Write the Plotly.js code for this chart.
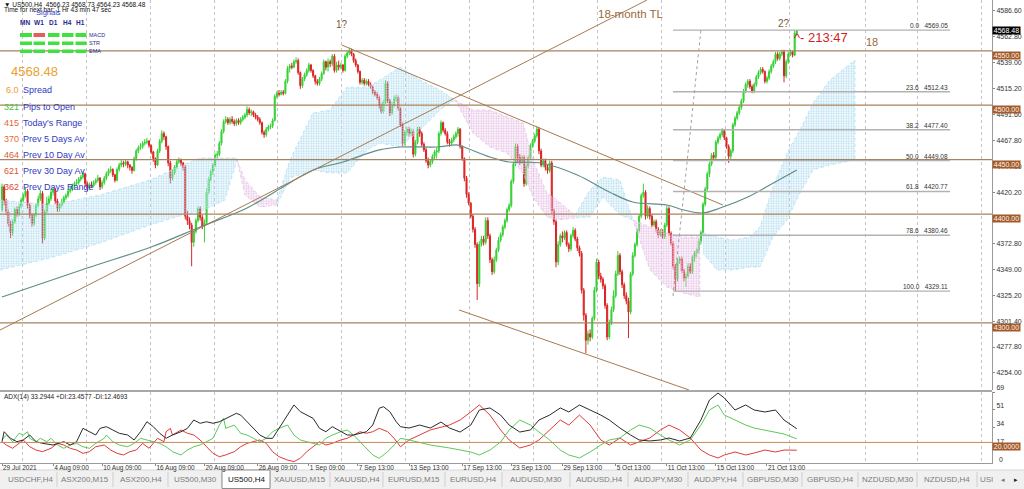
<!DOCTYPE html>
<html><head><meta charset="utf-8">
<script src="https://cdn.plot.ly/plotly-3.0.1.min.js"></script>
<style>html,body{margin:0;padding:0;background:#fff;}#chart{width:1024px;height:489px;}</style>
</head><body><div id="chart"></div>
<script>
// ---------------- DATA ----------------
const opens = [4404,4425,4412,4402,4391,4383,4393,4404,4400,4407,
4413,4417,4421,4408,4399,4391,4399,4408,4414,4419,
4378,4402,4410,4414,4420,4422,4412,4405,4408,4411,
4415,4417,4421,4423,4426,4428,4429,4432,4434,4437,
4428,4424,4427,4426,4429,4431,4433,4425,4429,4433,
4437,4440,4441,4436,4431,4441,4445,4447,4446,4448,
4445,4443,4440,4451,4458,4461,4462,4465,4466,4467,
4463,4457,4451,4445,4458,4467,4474,4471,4462,4447,
4433,4438,4443,4448,4450,4447,4443,4398,4394,4390,
4374,4384,4394,4405,4397,4389,4392,4420,4432,4439,
4445,4454,4455,4465,4476,4485,4487,4484,4487,4485,
4483,4486,4484,4487,4489,4491,4496,4493,4494,4491,
4489,4487,4484,4475,4473,4478,4480,4481,4486,4508,
4511,4510,4512,4511,4522,4534,4536,4535,4540,4541,
4530,4518,4524,4528,4532,4537,4532,4527,4522,4520,
4524,4529,4540,4535,4540,4538,4545,4532,4537,4535,
4537,4532,4545,4548,4550,4547,4541,4537,4531,4521,
4523,4520,4522,4519,4517,4512,4510,4507,4500,4494,
4503,4520,4504,4493,4500,4506,4507,4497,4482,4465,
4475,4478,4474,4476,4455,4466,4478,4474,4464,4459,
4449,4445,4448,4453,4457,4458,4474,4484,4477,4474,
4466,4465,4468,4471,4474,4478,4462,4451,4433,4418,
4410,4398,4386,4372,4336,4372,4377,4374,4394,4380,
4358,4347,4358,4367,4376,4381,4388,4394,4404,4408,
4430,4446,4462,4452,4448,4452,4428,4444,4452,4463,
4467,4472,4478,4458,4445,4449,4443,4440,4447,4403,
4393,4356,4372,4380,4378,4383,4372,4368,4380,4385,
4377,4369,4364,4330,4307,4284,4290,4287,4304,4330,
4356,4343,4340,4334,4316,4287,4300,4312,4325,4345,
4362,4347,4335,4325,4320,4310,4345,4362,4372,4385,
4398,4417,4420,4398,4405,4398,4390,4393,4386,4381,
4384,4379,4390,4405,4382,4373,4352,4340,4357,4359,
4348,4341,4343,4352,4347,4360,4364,4367,4375,4383,
4409,4423,4437,4446,4454,4452,4466,4470,4473,4477,
4470,4462,4453,4458,4482,4488,4493,4498,4504,4513,
4519,4522,4517,4513,4519,4526,4530,4533,4531,4522,
4525,4531,4536,4540,4547,4543,4547,4549,4527,4540,
4547,4549,4546,4566.23];
const highs = [4428,4427,4414,4404,4394,4395,4406,4407,4409,4415,
4419,4424,4423,4410,4401,4401,4410,4417,4422,4421,
4404,4416,4417,4423,4425,4424,4414,4410,4414,4417,
4419,4423,4425,4428,4430,4432,4434,4436,4439,4438,
4430,4429,4430,4431,4433,4436,4434,4431,4435,4439,
4442,4444,4442,4437,4443,4447,4450,4449,4450,4449,
4446,4444,4453,4460,4463,4465,4467,4469,4470,4468,
4464,4458,4452,4460,4469,4477,4476,4472,4463,4449,
4441,4445,4450,4452,4451,4448,4445,4403,4397,4392,
4386,4396,4407,4407,4399,4395,4424,4434,4441,4447,
4456,4458,4467,4478,4487,4490,4489,4489,4490,4487,
4488,4488,4489,4491,4493,4499,4498,4496,4495,4493,
4491,4489,4485,4477,4480,4482,4483,4488,4510,4513,
4514,4514,4514,4524,4536,4538,4539,4542,4544,4543,
4531,4526,4530,4534,4539,4538,4533,4528,4524,4526,
4531,4542,4541,4543,4542,4547,4547,4540,4541,4539,
4538,4547,4550,4553,4552,4548,4543,4538,4532,4525,
4525,4524,4524,4521,4518,4514,4512,4509,4502,4505,
4523,4522,4506,4503,4509,4510,4509,4498,4484,4477,
4480,4480,4479,4478,4468,4480,4480,4476,4466,4461,
4452,4450,4455,4459,4461,4476,4486,4485,4479,4476,
4469,4470,4473,4476,4480,4479,4463,4452,4435,4420,
4411,4400,4388,4374,4375,4380,4380,4397,4397,4382,
4360,4361,4369,4379,4383,4390,4396,4406,4410,4432,
4448,4465,4464,4455,4454,4454,4446,4454,4465,4469,
4474,4481,4480,4460,4451,4451,4446,4449,4449,4405,
4395,4375,4382,4384,4385,4385,4374,4382,4388,4387,
4379,4371,4366,4332,4309,4293,4294,4306,4333,4359,
4358,4346,4342,4336,4318,4303,4315,4330,4348,4366,
4364,4349,4337,4328,4323,4347,4365,4374,4387,4400,
4419,4428,4422,4408,4407,4400,4395,4395,4388,4386,
4386,4392,4408,4407,4384,4375,4354,4359,4361,4361,
4350,4346,4355,4355,4362,4366,4369,4377,4385,4411,
4425,4439,4448,4456,4457,4468,4472,4475,4479,4478,
4471,4464,4460,4484,4490,4495,4500,4506,4515,4521,
4524,4524,4519,4521,4528,4532,4535,4535,4532,4527,
4533,4538,4542,4549,4549,4549,4551,4551,4542,4549,
4551,4550,4569.05,4568.73];
const lows = [4402,4408,4399,4388,4378,4380,4391,4397,4398,4405,
4411,4415,4405,4396,4388,4389,4397,4406,4412,4373,
4376,4400,4408,4412,4417,4409,4402,4402,4406,4409,
4413,4415,4419,4421,4424,4426,4427,4430,4432,4425,
4421,4422,4424,4425,4427,4429,4422,4423,4427,4431,
4435,4438,4434,4429,4430,4439,4443,4443,4444,4442,
4440,4437,4439,4449,4456,4459,4460,4463,4464,4461,
4455,4448,4442,4444,4456,4465,4468,4459,4444,4428,
4431,4436,4441,4446,4444,4440,4395,4390,4386,4352,
4370,4382,4392,4394,4386,4374,4390,4418,4430,4436,
4443,4451,4453,4463,4474,4483,4482,4482,4483,4481,
4481,4482,4482,4485,4487,4489,4491,4490,4489,4487,
4485,4482,4473,4470,4471,4476,4478,4479,4485,4506,
4508,4509,4509,4510,4520,4530,4533,4534,4538,4528,
4515,4516,4522,4526,4530,4530,4525,4519,4518,4518,
4522,4528,4532,4531,4535,4536,4530,4530,4532,4533,
4530,4531,4543,4546,4545,4539,4535,4529,4519,4519,
4518,4518,4517,4515,4510,4508,4505,4497,4492,4492,
4501,4502,4490,4491,4498,4503,4495,4480,4462,4463,
4472,4471,4472,4452,4453,4464,4471,4462,4457,4447,
4442,4443,4446,4450,4451,4456,4472,4475,4472,4464,
4462,4463,4466,4469,4471,4460,4449,4430,4415,4408,
4396,4383,4369,4321,4333,4370,4371,4372,4377,4355,
4344,4345,4356,4365,4374,4379,4386,4392,4402,4406,
4428,4444,4447,4445,4446,4425,4426,4442,4450,4461,
4465,4470,4455,4443,4443,4440,4437,4438,4400,4390,
4351,4353,4370,4374,4376,4370,4365,4366,4378,4375,
4366,4361,4327,4302,4272,4280,4283,4285,4302,4328,
4340,4337,4331,4313,4284,4285,4298,4310,4323,4343,
4344,4332,4322,4317,4286,4308,4343,4360,4370,4383,
4396,4415,4395,4396,4395,4388,4388,4383,4378,4379,
4377,4377,4388,4380,4371,4349,4329.11,4338,4354,4346,
4338,4333,4341,4345,4345,4356,4360,4364,4372,4381,
4407,4421,4434,4444,4450,4450,4464,4468,4471,4468,
4460,4447,4450,4456,4480,4486,4491,4496,4502,4511,
4516,4515,4511,4511,4517,4524,4528,4529,4520,4520,
4523,4529,4534,4538,4541,4541,4545,4521,4525,4538,
4545,4544,4545,4564.23];
const closes = [4425,4412,4402,4391,4383,4393,4404,4400,4407,4413,
4417,4421,4408,4399,4391,4399,4408,4414,4419,4378,
4402,4410,4414,4420,4422,4412,4405,4408,4411,4415,
4417,4421,4423,4426,4428,4429,4432,4434,4437,4428,
4424,4427,4426,4429,4431,4433,4425,4429,4433,4437,
4440,4441,4436,4431,4441,4445,4447,4446,4448,4445,
4443,4440,4451,4458,4461,4462,4465,4466,4467,4463,
4457,4451,4445,4458,4467,4474,4471,4462,4447,4433,
4438,4443,4448,4450,4447,4443,4398,4394,4390,4374,
4384,4394,4405,4397,4389,4392,4420,4432,4439,4445,
4454,4455,4465,4476,4485,4487,4484,4487,4485,4483,
4486,4484,4487,4489,4491,4496,4493,4494,4491,4489,
4487,4484,4475,4473,4478,4480,4481,4486,4508,4511,
4510,4512,4511,4522,4534,4536,4535,4540,4541,4530,
4518,4524,4528,4532,4537,4532,4527,4522,4520,4524,
4529,4540,4535,4540,4538,4545,4532,4537,4535,4537,
4532,4545,4548,4550,4547,4541,4537,4531,4521,4523,
4520,4522,4519,4517,4512,4510,4507,4500,4494,4503,
4520,4504,4493,4500,4506,4507,4497,4482,4465,4475,
4478,4474,4476,4455,4466,4478,4474,4464,4459,4449,
4445,4448,4453,4457,4458,4474,4484,4477,4474,4466,
4465,4468,4471,4474,4478,4462,4451,4433,4418,4410,
4398,4386,4372,4336,4372,4377,4374,4394,4380,4358,
4347,4358,4367,4376,4381,4388,4394,4404,4408,4430,
4446,4462,4452,4448,4452,4428,4444,4452,4463,4467,
4472,4478,4458,4445,4449,4443,4440,4447,4403,4393,
4356,4372,4380,4378,4383,4372,4368,4380,4385,4377,
4369,4364,4330,4307,4284,4290,4287,4304,4330,4356,
4343,4340,4334,4316,4287,4300,4312,4325,4345,4362,
4347,4335,4325,4320,4310,4345,4362,4372,4385,4398,
4417,4420,4398,4405,4398,4390,4393,4386,4381,4384,
4379,4390,4405,4382,4373,4352,4340,4357,4359,4348,
4341,4343,4352,4347,4360,4364,4367,4375,4383,4409,
4423,4437,4446,4454,4452,4466,4470,4473,4477,4470,
4462,4453,4458,4482,4488,4493,4498,4504,4513,4519,
4522,4517,4513,4519,4526,4530,4533,4531,4522,4525,
4531,4536,4540,4547,4543,4547,4549,4527,4540,4547,
4549,4546,4566.23,4568.48];

// slow moving average (read at points along the curve)
const maBar = [0,40,70,93,115,131,146,160,177,187,204,214,218,229,238,253,270,285,296,312,320,329,337,350,362,373];
const maVal = [4323.8,4350.4,4369.7,4388.1,4405.6,4423.9,4440.5,4447.8,4458.9,4461.6,4461.6,4463.4,4460.7,4452.4,4447.8,4446.9,4435.9,4420.3,4411.1,4408.3,4403.7,4401.0,4405.5,4415.7,4428.5,4440.5];

// Ichimoku cloud pieces (bar, top, bottom)
const cloud1Bar = [-0.9,22.5,46,69.5,84.9,92.9,104.6,110.3];
const cloud1Top = [4412.9,4408.3,4417.5,4431.3,4445.1,4451.5,4451.5,4451.5];
const cloud1Bot = [4348.6,4359.6,4373.4,4389.9,4399.1,4401.9,4412.9,4449.7];
const cloud2Bar = [110.3,114,121.1,129];
const cloud2Top = [4449.7,4431.3,4415.7,4412.9];
const cloud2Bot = [4449.7,4417.5,4406.5,4408.3];
const cloud3Bar = [129,135.1,145.9,153.9,161.9,171.3,177.4,186.8,196.2,205.5,212.6];
const cloud3Top = [4412.9,4449.7,4492.9,4495.6,4516.7,4516.7,4523.2,4535.1,4523.2,4514.0,4504.8];
const cloud3Bot = [4408.3,4433.1,4440.5,4437.7,4437.7,4458.9,4465.3,4461.6,4477.2,4495.6,4504.8];
const cloud4Bar = [212.6,221,229,237,244.5,249.2,255.7,260.4,268.9];
const cloud4Top = [4504.8,4495.6,4495.6,4489.2,4483.7,4449.7,4419.3,4413.0,4399.1];
const cloud4Bot = [4504.8,4474.5,4461.6,4456.1,4437.7,4415.7,4397.3,4394.5,4396.4];
const cloud5Bar = [268.9,275.9,282,290,296.1];
const cloud5Top = [4399.1,4422.1,4433.9,4431.3,4394.5];
const cloud5Bot = [4396.4,4397.3,4415.7,4399.1,4394.5];
const cloud6Bar = [296.1,304.1,312.1,319.6,327.5];
const cloud6Top = [4394.5,4388.1,4382.6,4378.9,4378.9];
const cloud6Bot = [4394.5,4348.6,4332.9,4327.4,4323.8];
const cloud7Bar = [328.9,335.5,343,351,355.7,361.8,368.4,374.5,380.6,388.6,400.3];
const cloud7Top = [4382.6,4378.9,4376.1,4378.9,4388.1,4424.8,4456.1,4477.2,4502.0,4523.2,4541.6];
const cloud7Bot = [4364.2,4348.6,4348.6,4351.3,4351.3,4378.9,4394.5,4419.3,4440.5,4445.1,4449.7];

// ADX(14) panel
const adxBar = [0,1,4,7,10,13,16,19,24,29,32,35,38,41,44,46,49,52,55,59,62,65,68,71,74,77,80,84,87,90,93,96,99,102,107,110,112,115,118,121,124,127,130,134,137,140,143,146,149,152,155,159,162,165,168,171,174,177,179,182,185,187,191,196,201,206,210,215,220,224,229,234,238,243,248,252,257,262,266,271,276,281,285,290,295,299,304,309,313,318,323,328,332,336,339,344,349,353,358,363,367,373];
const adxVal = [20.7,30.4,24.0,20.7,22.4,27.2,20.7,19.1,17.5,20.7,17.5,20.7,33.7,30.4,27.2,33.7,35.3,32.1,28.9,27.2,22.4,30.4,40.1,35.3,28.9,24.0,27.2,30.4,33.7,41.8,38.6,40.1,38.6,40.1,45.0,48.3,46.6,40.1,33.7,27.2,24.0,24.0,33.7,46.6,56.4,49.9,46.6,43.4,33.7,30.4,35.3,30.4,27.2,27.2,28.9,30.4,36.9,53.2,54.7,49.9,40.1,35.3,34.0,36.9,34.0,39.8,34.0,30.1,36.9,51.5,53.5,46.6,36.9,30.1,32.1,41.8,46.6,53.5,49.6,56.4,51.5,46.6,41.8,34.0,27.2,22.4,21.4,22.4,24.3,21.4,24.3,41.8,61.2,68.0,63.2,51.5,56.4,51.5,49.6,51.5,41.8,33.29];
const pdiBar = [0,2,5,8,10,12,13,16,18,21,23,26,29,32,35,38,41,44,48,49,52,55,59,62,65,68,71,74,77,80,84,87,90,93,96,99,102,104,105,109,112,115,118,121,124,127,130,134,137,140,143,146,149,152,155,159,162,165,168,171,174,177,181,184,187,191,201,210,220,224,229,234,238,243,248,252,257,262,266,271,276,281,285,290,295,299,304,309,313,318,323,328,332,336,339,344,349,353,358,363,367,373];
const pdiVal = [22.4,27.2,20.7,28.9,27.2,30.4,24.0,20.7,24.0,20.7,24.0,17.5,14.3,17.5,19.1,15.8,14.3,19.1,24.0,27.2,20.7,17.5,15.8,19.1,24.0,22.4,20.7,19.1,15.8,11.0,7.8,12.6,15.8,17.5,20.7,24.0,36.9,43.4,33.7,36.9,28.9,27.2,24.0,20.7,24.0,30.4,33.7,36.9,27.2,22.4,20.7,19.1,17.5,24.0,27.2,30.4,32.1,27.2,20.7,14.3,7.8,4.6,11.0,17.5,24.0,22.4,17.5,14.6,10.7,7.8,12.6,20.4,32.1,41.8,36.9,30.1,22.4,12.6,7.8,4.9,10.7,17.5,22.4,24.3,32.1,36.9,34.0,27.2,22.4,17.5,22.4,36.9,51.5,56.4,46.6,41.8,36.9,34.0,32.1,30.1,28.2,23.46];
const mdiBar = [0,2,5,8,10,13,16,19,23,26,29,32,35,38,41,44,48,51,54,57,60,63,66,69,73,76,77,79,80,84,87,90,93,96,99,102,105,109,112,115,118,121,124,127,130,134,137,140,143,146,149,152,155,159,162,165,168,171,174,177,181,184,187,191,201,210,215,220,224,229,234,238,243,248,252,257,262,266,271,276,281,285,290,295,299,304,309,313,318,323,328,332,336,339,344,349,353,358,363,367,373];
const mdiVal = [20.7,17.5,14.3,19.1,22.4,15.8,12.6,11.0,14.3,19.1,17.5,14.3,12.6,9.4,11.0,15.8,17.5,12.6,9.4,7.8,11.0,12.6,19.1,14.3,24.0,20.7,30.4,33.7,27.2,32.1,28.9,27.2,22.4,15.8,9.4,6.1,7.8,11.0,15.8,19.1,20.7,22.4,19.1,11.0,6.1,2.9,1.3,4.6,11.0,15.8,20.7,17.5,19.1,22.4,24.0,27.2,30.4,28.9,30.4,33.7,30.4,24.0,15.8,22.4,32.1,36.9,41.8,49.6,56.4,46.6,32.1,22.4,14.6,17.5,22.4,32.1,41.8,36.9,46.6,36.9,22.4,17.5,24.3,17.5,20.4,24.3,32.1,36.9,32.1,24.3,12.6,7.8,4.9,7.8,10.7,7.8,9.7,12.6,10.7,12.6,12.47];

// axis labels
const timeLabelBars = [0,24,47,72,95,120,144,167,191,216,239,263,288,312,335,359];
const timeLabels = ['29 Jul 2021','4 Aug 09:00','10 Aug 09:00','16 Aug 09:00','20 Aug 09:00','26 Aug 09:00','1 Sep 09:00','7 Sep 13:00','13 Sep 13:00','17 Sep 13:00','23 Sep 13:00','29 Sep 13:00','5 Oct 13:00','11 Oct 13:00','15 Oct 13:00','21 Oct 13:00'];
const priceTicks = [4586.6,4562.8,4539.0,4515.2,4491.6,4467.8,4444.0,4420.2,4372.8,4349.0,4325.2,4301.4,4277.8,4254.0];
const adxTicks = [69,51.75,34.5,17.25];
const adxTickText = ['69','51','34','17'];
const levels = [4550,4500,4450,4400,4300];
const fibPct = ['0.0','23.6','38.2','50.0','61.8','78.6','100.0'];
const fibPrice = [4569.05,4512.43,4477.40,4449.08,4420.77,4380.46,4329.11];
const lastPrice = 4568.48;
const gridBars = [9.5,39.5,69.5,99.5,129.5,159.5,189.5,219.5,249.5,279.5,309.5,339.5,369.5,405.4,429.5,459.5];

// drawn objects (bar index, price)
const trendLines = [
  [-0.94,4293.4,302.7,4596.7],
  [159.5,4555.3,338.3,4408.3],
  [214.5,4311.8,322.4,4238.3]
];
const fibDiag = [314.9,4324.7,328.0,4569.1];
const fibFrom = 314.9, fibTo = 444.9;

// info panel
const infoNums = ['6.0','321','415','370','464','621','362'];
const infoText = ['Spread','Pips to Open',"Today's Range",'Prev 5 Days Av','Prev 10 Day Av','Prev 30 Day Av','Prev Days Range'];
const infoColors = ['#e8a030','#3cc83c','#e8663a','#ea6a30','#e25a32','#e05432','#dc4a30'];
const tfNames = ['MN','W1','D1','H4','H1'];
const sigRows = ['MACD','STR','EMA'];
const sigState = [[1,0,1,1,1],[1,1,1,1,1],[1,1,1,1,1]];
const tabNames = ['USDCHF,H4','ASX200,M15','ASX200,H4','US500,M30','US500,H4','XAUUSD,M15','XAUUSD,H4','EURUSD,M15','EURUSD,H4','AUDUSD,M30','AUDUSD,H4','AUDJPY,M30','AUDJPY,H4','GBPUSD,M30','GBPUSD,H4','NZDUSD,M30','NZDUSD,H4','USI'];

// ---------------- LAYOUT HELPERS ----------------
const FONT = 'Liberation Sans, Arial, sans-serif';
const W = 992, H = 463;
const PX = x => x / W, PY = y => (H - y) / H;
const tabEdges = [-2,57,113,168,222,270,330,383,445,502,570,628,688,743,802,858,917,977,1000];
const idx = closes.map((_, i) => i);
const GREEN = '#35d035', RED = '#dc2424';
const BROWN = '#a8835f', BOX = '#a25a2a';

const traces = [];
const clouds = [
  [cloud1Bar,cloud1Top,cloud1Bot,'bull'],[cloud2Bar,cloud2Top,cloud2Bot,'bear'],
  [cloud3Bar,cloud3Top,cloud3Bot,'bull'],[cloud4Bar,cloud4Top,cloud4Bot,'bear'],
  [cloud5Bar,cloud5Top,cloud5Bot,'bull'],[cloud6Bar,cloud6Top,cloud6Bot,'bear'],
  [cloud7Bar,cloud7Top,cloud7Bot,'bull']
];
clouds.forEach(([b,t,l,k]) => {
  const col = k === 'bull' ? '#b4def0' : '#e6c0e6';
  traces.push({type:'scatter', mode:'lines', x: b.concat(b.slice().reverse()), y: t.concat(l.slice().reverse()),
    fill:'toself', line:{width:0.8, color: col, dash:'dot'}, fillcolor:'rgba(0,0,0,0)',
    fillpattern:{shape:'.', fgcolor: col, bgcolor:'rgba(255,255,255,0)', size:2.5, solidity:0.45},
    xaxis:'x', yaxis:'y', hoverinfo:'skip', showlegend:false});
});
traces.push({type:'scatter', mode:'lines', x: maBar, y: maVal, line:{color:'#5f8d88', width:1.2, shape:'spline'}, xaxis:'x', yaxis:'y', hoverinfo:'skip'});
traces.push({type:'candlestick', x: idx, open: opens, high: highs, low: lows, close: closes, xaxis:'x', yaxis:'y',
  increasing:{line:{color:GREEN, width:1}, fillcolor:GREEN}, decreasing:{line:{color:RED, width:1}, fillcolor:RED},
  whiskerwidth:0, hoverinfo:'skip', showlegend:false});
traces.push({type:'scatter', mode:'lines', x: mdiBar, y: mdiVal, line:{color:'#e03a3a', width:1}, xaxis:'x', yaxis:'y2', hoverinfo:'skip'});
traces.push({type:'scatter', mode:'lines', x: pdiBar, y: pdiVal, line:{color:'#5cc85c', width:1}, xaxis:'x', yaxis:'y2', hoverinfo:'skip'});
traces.push({type:'scatter', mode:'lines', x: adxBar, y: adxVal, line:{color:'#2a2a2a', width:1}, xaxis:'x', yaxis:'y2', hoverinfo:'skip'});

const shapes = [];
// tab bar (drawn below axis labels)
shapes.push({type:'rect', layer:'below', xref:'paper', yref:'paper', x0:PX(-2), x1:PX(1026), y0:PY(490), y1:PY(470), line:{width:0}, fillcolor:'#f0f0f0'});
shapes.push({type:'line', layer:'below', xref:'paper', yref:'paper', x0:PX(0), x1:PX(1024), y0:PY(470), y1:PY(470), line:{color:'#d6d6d6', width:1}});
tabEdges.slice(1, -1).forEach(x => shapes.push({type:'line', layer:'below', xref:'paper', yref:'paper', x0:PX(x), x1:PX(x), y0:PY(487), y1:PY(472), line:{color:'#cfcfcf', width:1}}));
shapes.push({type:'rect', layer:'below', xref:'paper', yref:'paper', x0:PX(222), x1:PX(270), y0:PY(488.5), y1:PY(470), line:{color:'#8c8c8c', width:1}, fillcolor:'#ffffff'});
// horizontal levels
levels.forEach(v => shapes.push({type:'line', xref:'paper', yref:'y', x0:0, x1:1, y0:v, y1:v, line:{color:BROWN, width:1.2}}));
// trend lines
trendLines.forEach(t => shapes.push({type:'line', xref:'x', yref:'y', x0:t[0], y0:t[1], x1:t[2], y1:t[3], line:{color:'#a57a50', width:1}}));
// fib levels
fibPrice.forEach(v => shapes.push({type:'line', xref:'x', yref:'y', x0:fibFrom, x1:fibTo, y0:v, y1:v, line:{color:'#b2b2b2', width:1.4}}));
shapes.push({type:'line', xref:'x', yref:'y', x0:fibDiag[0], y0:fibDiag[1], x1:fibDiag[2], y1:fibDiag[3], line:{color:'#a0a0a0', width:1, dash:'dot'}});
// ADX 20 level
shapes.push({type:'line', xref:'paper', yref:'y2', x0:0, x1:1, y0:20, y1:20, line:{color:'#c88a55', width:1}});
// panel separator
shapes.push({type:'line', xref:'paper', yref:'paper', x0:0, x1:1, y0:PY(391), y1:PY(391), line:{color:'#a8a8a8', width:2}});
// signals panel bars
const colX = [[20,32],[33.5,45],[48,59.5],[62,73.5],[75.5,86.5]];
const rowY = [[33,37],[41.5,45],[49.5,53]];
sigState.forEach((row, r) => row.forEach((s, c) => shapes.push({type:'rect', xref:'paper', yref:'paper',
  x0:PX(colX[c][0]), x1:PX(colX[c][1]), y0:PY(rowY[r][1]), y1:PY(rowY[r][0]), line:{width:0}, fillcolor: s ? '#3fe03f' : '#e0605a'})));

const annotations = [];
const T = (x, y, text, size, color, xa, extra) => Object.assign({xref:'paper', yref:'paper', x:PX(x), y:PY(y), text, showarrow:false,
  xanchor: xa || 'left', yanchor:'middle', font:{family:FONT, size, color}}, extra || {});
annotations.push(T(2, 4, '▼ US500,H4  4566.23 4568.73 4564.23 4568.48', 6.5, '#111'));
annotations.push(T(2, 9.5, 'Time for next bar: 1 Hr 43 min 47 sec', 6.5, '#111'));
annotations.push(T(48, 12, 'Signals', 7.5, '#3344c4', 'center'));
const tfX = [25, 38.5, 53.5, 67.5, 80.5];
tfNames.forEach((t, i) => annotations.push(T(tfX[i], 23, '<b>' + t + '</b>', 6.5, '#1f2a8f', 'center')));
sigRows.forEach((t, i) => annotations.push(T(87, [35, 43.3, 51.3][i], t, 5.5, '#1f2a8f')));
annotations.push(T(9, 71, String(lastPrice), 13, '#eba032'));
const infoY = [90.5, 107, 123, 139, 154.5, 171, 187];
infoNums.forEach((n, i) => {
  annotations.push(T(20.5, infoY[i], n, 9, infoColors[i], 'right'));
  annotations.push(T(20.5, infoY[i], infoText[i], 9, '#3039c4'));
});
annotations.push(T(342, 25, '1?', 10, '#7a5c40', 'center'));
annotations.push(T(596, 14, '18-month TL', 11.5, '#9a6a3a'));
annotations.push(T(784, 24, '2?', 10, '#7a5c40', 'center'));
annotations.push(T(792, 37, '^- 213:47', 13, '#d01f1f'));
annotations.push(T(872, 42, '18', 11, '#9a6a3a', 'center'));
// fib labels
fibPrice.forEach((v, i) => annotations.push({xref:'x', yref:'y', x: fibTo, y: v, text: fibPct[i] + '   ' + v.toFixed(2), showarrow:false,
  xanchor:'right', yanchor:'bottom', yshift:-1, font:{family:FONT, size:6.5, color:'#333'}}));
// price boxes on the right scale
levels.forEach(v => annotations.push({xref:'paper', yref:'y', x:1, y:v, xanchor:'left', yanchor:'top', text:v.toFixed(2), showarrow:false,
  bgcolor:BOX, borderpad:0, width:27, height:7, font:{family:FONT, size:7, color:'#fff3e6'}}));
annotations.push({xref:'paper', yref:'y', x:1, y:lastPrice, xanchor:'left', yanchor:'middle', text:lastPrice.toFixed(2), showarrow:false,
  bgcolor:'#000', borderpad:0, width:27, height:7, font:{family:FONT, size:7, color:'#fff'}});
annotations.push({xref:'paper', yref:'y2', x:1, y:20, xanchor:'left', yanchor:'top', text:'20.0000', showarrow:false,
  bgcolor:BOX, borderpad:0, width:27, height:7, font:{family:FONT, size:7, color:'#fff3e6'}});
annotations.push(T(997, 459, '0', 7, '#333'));
annotations.push(T(2, 396.5, 'ADX(14) 33.2944 +DI:23.4577 -DI:12.4693', 6.5, '#222'));
// tabs
tabNames.forEach((n, i) => {
  const c = i === tabNames.length - 1 ? 986 : (Math.max(tabEdges[i], 0) + tabEdges[i + 1]) / 2 + (i === 0 ? 2 : 0);
  annotations.push(T(c, 479.5, n, 8, i === 4 ? '#111' : '#7c7c7c', 'center'));
});
annotations.push(T(1003, 479.5, '◂', 7, '#777', 'center'));
annotations.push(T(1016, 479.5, '▸', 7, '#222', 'center'));

const layout = {
  width:1024, height:489, margin:{l:0, r:32, t:0, b:26}, paper_bgcolor:'#fff', plot_bgcolor:'#fff', showlegend:false,
  xaxis:{domain:[0,1], range:[-0.94,464.6], anchor:'y2', showgrid:false, zeroline:false, tickmode:'array', tickvals:timeLabelBars, ticktext:timeLabels,
    ticks:'outside', ticklen:2, tickcolor:'#888', ticklabelposition:'outside right', ticklabelstandoff:-2, tickfont:{family:FONT, size:6.5, color:'#333'},
    showline:true, linecolor:'#9a9a9a', linewidth:1, rangeslider:{visible:false}, fixedrange:true,
    minor:{tickmode:'array', tickvals:gridBars, showgrid:true, gridcolor:'#c4c4c4', griddash:'dot', gridwidth:1, ticks:''}},
  yaxis:{domain:[0.1577,1], range:[4238.3,4596.7], side:'right', anchor:'x', tickmode:'array', tickvals:priceTicks, ticktext:priceTicks.map(v => v.toFixed(2)),
    ticks:'outside', ticklen:2, tickcolor:'#888', tickfont:{family:FONT, size:7, color:'#333'}, showgrid:false, zeroline:false,
    showline:true, linecolor:'#9a9a9a', linewidth:1, fixedrange:true},
  yaxis2:{domain:[0,0.1533], range:[0,69], side:'right', anchor:'x', tickmode:'array', tickvals:adxTicks, ticktext:adxTickText, ticklabelshift:-4,
    ticks:'outside', ticklen:2, tickcolor:'#888', tickfont:{family:FONT, size:7, color:'#333'}, showgrid:false, zeroline:false,
    showline:true, linecolor:'#9a9a9a', linewidth:1, fixedrange:true},
  shapes, annotations
};
Plotly.newPlot('chart', traces, layout, {staticPlot:true, displayModeBar:false});
</script></body></html>
